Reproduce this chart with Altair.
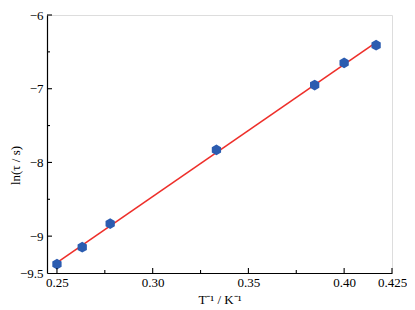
import altair as alt
import pandas as pd

# data
inv_T = [0.25, 0.2632, 0.2778, 0.3333, 0.3846, 0.40, 0.4167]
ln_tau = [-9.38, -9.15, -8.83, -7.83, -6.95, -6.65, -6.41]

x_major = [0.25, 0.30, 0.35, 0.40, 0.425]
x_minor = [0.275, 0.325, 0.375]
y_major = [-6, -7, -8, -9]
y_minor = [-6.5, -7.5, -8.5]
y_labels = [-9.5, -9, -8, -7, -6]

W, H = 345, 258
FONT = "Liberation Serif"
BLUE = "#2b5cb0"
RED = "#ee2f2a"

df = pd.DataFrame({"x": inv_T, "y": ln_tau})

xscale = alt.Scale(domain=[0.2448, 0.425], nice=False, zero=False)
yscale = alt.Scale(domain=[-9.5, -6], nice=False, zero=False)

hexagon = "M0,-1L0.866,-0.5L0.866,0.5L0,1L-0.866,0.5L-0.866,-0.5Z"

xaxis = alt.Axis(
    values=x_major, ticks=False, grid=False, domainColor="black", domainWidth=1.2,
    labelExpr="datum.value == 0.425 ? '0.425' : format(datum.value, '.2f')",
    labelFont=FONT, labelFontSize=13, labelColor="black", labelPadding=3,
    labelOverlap=False, labelFlush=False,
    title="T⁻¹ / K⁻¹", titleFont=FONT, titleFontSize=13, titleFontWeight="normal",
    titleColor="black", titleY=26, titleBaseline="middle",
)
yaxis = alt.Axis(
    values=y_labels, ticks=False, grid=False, domainColor="black", domainWidth=1.2,
    labelExpr="datum.value == -9.5 ? '−9.5' : format(datum.value, 'd')",
    labelFont=FONT, labelFontSize=13, labelColor="black", labelPadding=4,
    labelOverlap=False, labelFlush=False,
    title="ln(τ / s)", titleFont=FONT, titleFontSize=13, titleFontWeight="normal",
    titleColor="black", titleX=-32, titleY=150, titleAngle=270,
    titleAlign="center", titleBaseline="middle",
)

base = alt.Chart(df)

line = base.transform_regression("x", "y").mark_line(color=RED, strokeWidth=1.6).encode(
    x=alt.X("x:Q", scale=xscale, axis=xaxis),
    y=alt.Y("y:Q", scale=yscale, axis=yaxis),
)

points = base.mark_point(shape=hexagon, size=115, filled=True, color=BLUE, opacity=1).encode(
    x=alt.X("x:Q", scale=xscale),
    y=alt.Y("y:Q", scale=yscale),
)

ymaj = alt.Chart(pd.DataFrame({"y": y_major})).mark_rule(color="black", strokeWidth=1.1).encode(
    y=alt.Y("y:Q", scale=yscale), x=alt.value(0), x2=alt.value(5)
)
ymin = alt.Chart(pd.DataFrame({"y": y_minor})).mark_rule(color="black", strokeWidth=1.1).encode(
    y=alt.Y("y:Q", scale=yscale), x=alt.value(0), x2=alt.value(3)
)
xmaj = alt.Chart(pd.DataFrame({"x": x_major})).mark_rule(color="black", strokeWidth=1.1).encode(
    x=alt.X("x:Q", scale=xscale), y=alt.value(H), y2=alt.value(H - 5)
)
xmin = alt.Chart(pd.DataFrame({"x": x_minor})).mark_rule(color="black", strokeWidth=1.1).encode(
    x=alt.X("x:Q", scale=xscale), y=alt.value(H), y2=alt.value(H - 3)
)

chart = alt.layer(line, points, ymaj, ymin, xmaj, xmin).properties(
    width=W, height=H,
    autosize=alt.AutoSizeParams(type="none"),
    padding={"left": 39, "top": 7, "right": 15, "bottom": 35},
).configure_view(stroke=None).configure(background="white")

chart.save("out.html", embed_options={"renderer": "svg", "actions": False})
